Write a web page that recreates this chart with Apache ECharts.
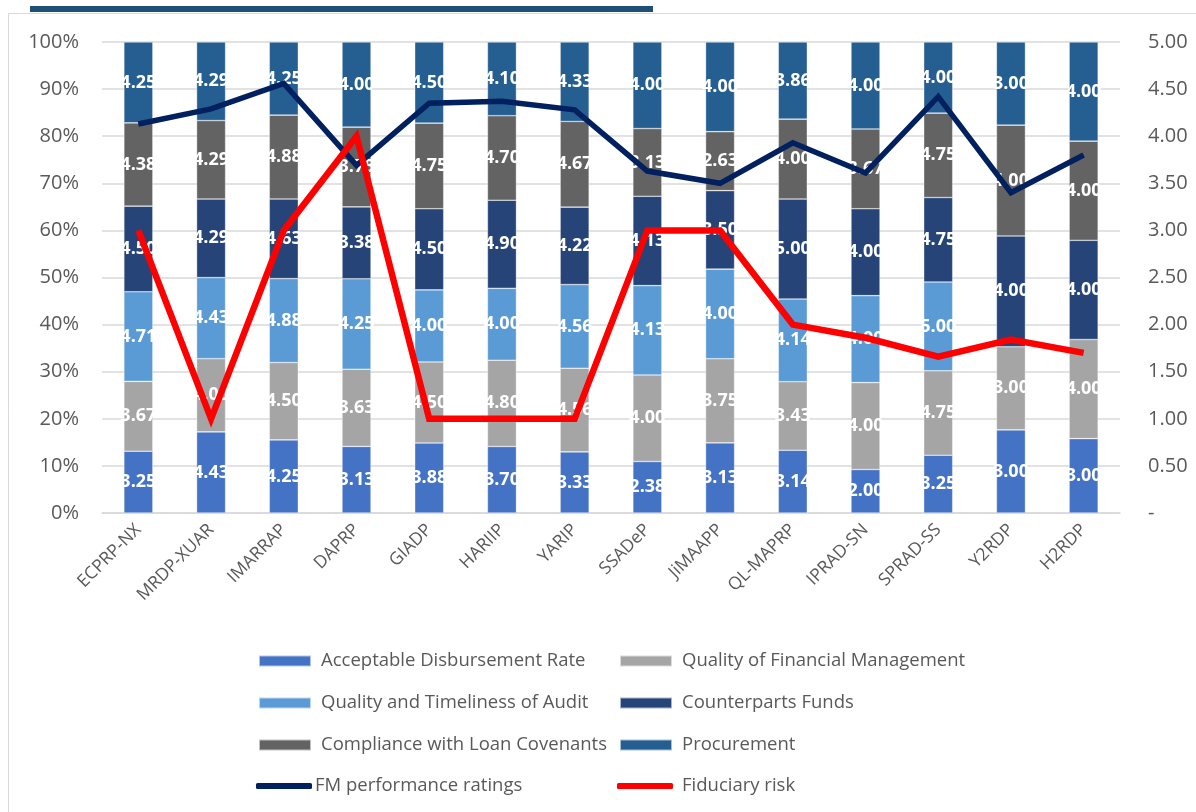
<!DOCTYPE html>
<html>
<head>
<meta charset="utf-8">
<script src="https://cdn.jsdelivr.net/npm/echarts@6/dist/echarts.min.js"></script>
<style>
  html, body { margin: 0; padding: 0; background: #ffffff; }
  #chart { width: 1196px; height: 812px; }
</style>
</head>
<body>
<div id="chart"></div>
<script>
// Project categories
const projects = ['ECPRP-NX', 'MRDP-XUAR', 'IMARRAP', 'DAPRP', 'GIADP', 'HARIIP', 'YARIP',
  'SSADeP', 'JiMAAPP', 'QL-MAPRP', 'IPRAD-SN', 'SPRAD-SS', 'Y2RDP', 'H2RDP'];

// Component scores per project (null = not rated)
const disbursementRate = [3.25, 4.43, 4.25, 3.13, 3.88, 3.70, 3.33, 2.38, 3.13, 3.14, 2.00, 3.25, 3.00, 3.00];
const financialMgmt    = [3.67, 4.00, 4.50, 3.63, 4.50, 4.80, 4.56, 4.00, 3.75, 3.43, 4.00, 4.75, 3.00, 4.00];
const auditQuality     = [4.71, 4.43, 4.88, 4.25, 4.00, 4.00, 4.56, 4.13, 4.00, 4.14, 4.00, 5.00, null, null];
const counterpartFunds = [4.50, 4.29, 4.63, 3.38, 4.50, 4.90, 4.22, 4.13, 3.50, 5.00, 4.00, 4.75, 4.00, 4.00];
const loanCovenants    = [4.38, 4.29, 4.88, 3.75, 4.75, 4.70, 4.67, 3.13, 2.63, 4.00, 3.67, 4.75, 4.00, 4.00];
const procurement      = [4.25, 4.29, 4.25, 4.00, 4.50, 4.10, 4.33, 4.00, 4.00, 3.86, 4.00, 4.00, 3.00, 4.00];

// Overall ratings (right axis)
const fmRatings     = [4.13, 4.29, 4.56, 3.69, 4.35, 4.37, 4.28, 3.63, 3.50, 3.93, 3.61, 4.42, 3.40, 3.80];
const fiduciaryRisk = [3.00, 1.00, 3.00, 4.00, 1.00, 1.00, 1.00, 3.00, 3.00, 2.00, 1.86, 1.66, 1.84, 1.70];

// Axis tick labels
const pctTicks = ['0%', '10%', '20%', '30%', '40%', '50%', '60%', '70%', '80%', '90%', '100%'];
const ratingTicks = ['-', '0.50', '1.00', '1.50', '2.00', '2.50', '3.00', '3.50', '4.00', '4.50', '5.00'];

const components = [
  { name: 'Acceptable Disbursement Rate', data: disbursementRate, color: '#4472C4' },
  { name: 'Quality of Financial Management', data: financialMgmt, color: '#A5A5A5' },
  { name: 'Quality and Timeliness of Audit', data: auditQuality, color: '#5B9BD5' },
  { name: 'Counterparts Funds', data: counterpartFunds, color: '#264478' },
  { name: 'Compliance with Loan Covenants', data: loanCovenants, color: '#636363' },
  { name: 'Procurement', data: procurement, color: '#255E91' }
];

// Each bar is normalised to 100% of its project's total score
const totals = projects.map((_, i) =>
  components.reduce((s, c) => s + (c.data[i] == null ? 0 : c.data[i]), 0));

const FONT = 'Open Sans';
const GREY_TEXT = '#595959';

const barSeries = components.map(c => ({
  name: c.name,
  type: 'bar',
  stack: 'share',
  yAxisIndex: 0,
  barWidth: 29,
  itemStyle: { color: c.color, borderColor: 'rgba(255,255,255,0.6)', borderWidth: 0.6 },
  data: c.data.map((v, i) => v == null ? null : { value: v / totals[i] * 100, raw: v }),
  label: {
    show: true,
    position: 'inside',
    color: '#ffffff',
    fontFamily: FONT,
    fontWeight: 'bold',
    fontSize: 18,
    formatter: p => (p.data && p.data.raw != null) ? p.data.raw.toFixed(2) : ''
  },
  emphasis: { disabled: true }
}));

const lineSeries = [
  {
    name: 'FM performance ratings',
    type: 'line',
    yAxisIndex: 1,
    data: fmRatings,
    symbol: 'none',
    lineStyle: { color: '#002060', width: 5.5, join: 'miter' },
    itemStyle: { color: '#002060' },
    z: 5
  },
  {
    name: 'Fiduciary risk',
    type: 'line',
    yAxisIndex: 1,
    data: fiduciaryRisk,
    symbol: 'none',
    lineStyle: { color: '#FF0000', width: 6.5, join: 'miter' },
    itemStyle: { color: '#FF0000' },
    z: 6
  }
];

const legendText = { color: GREY_TEXT, fontFamily: FONT, fontSize: 18.5, lineHeight: 20 };
const barLegend = {
  orient: 'vertical', top: 651, padding: 0, itemWidth: 52, itemHeight: 11, itemGap: 22,
  icon: 'rect', selectedMode: false,
  textStyle: Object.assign({ padding: [0, 0, 0, 5] }, legendText)
};
const lineLegend = {
  orient: 'vertical', top: 776, padding: 0, itemWidth: 56, itemHeight: 6,
  icon: 'roundRect', selectedMode: false
};

const chart = echarts.init(document.getElementById('chart'), null, { renderer: 'canvas' });
chart.setOption({
  animation: false,
  backgroundColor: '#ffffff',
  graphic: [
    { type: 'rect', shape: { x: 8.5, y: 13.5, width: 1200, height: 820 },
      style: { fill: 'none', stroke: '#D9D9D9', lineWidth: 1 }, z: -10 },
    { type: 'rect', shape: { x: 30, y: 6, width: 623, height: 6 },
      style: { fill: '#1F4E79' }, z: 10 }
  ],
  grid: { left: 102, right: 76, top: 42, bottom: 299, containLabel: false },
  xAxis: {
    type: 'category',
    data: projects,
    axisLine: { show: true, lineStyle: { color: '#D9D9D9', width: 1.5 } },
    axisTick: { show: false },
    axisLabel: { rotate: 45, margin: 14, color: GREY_TEXT, fontFamily: FONT, fontSize: 17.5, interval: 0 }
  },
  yAxis: [
    {
      type: 'value', min: 0, max: 100, interval: 10,
      axisLine: { show: false }, axisTick: { show: false },
      splitLine: { lineStyle: { color: '#D9D9D9', width: 1.5 } },
      axisLabel: { margin: 23, color: GREY_TEXT, fontFamily: FONT, fontSize: 20,
        formatter: v => pctTicks[Math.round(v / 10)] }
    },
    {
      type: 'value', min: 0, max: 5, interval: 0.5,
      axisLine: { show: false }, axisTick: { show: false }, splitLine: { show: false },
      axisLabel: { margin: 28, color: GREY_TEXT, fontFamily: FONT, fontSize: 20,
        formatter: v => ratingTicks[Math.round(v * 2)] }
    }
  ],
  legend: [
    Object.assign({ left: 258, data: [components[0].name, components[2].name, components[4].name] }, barLegend),
    Object.assign({ left: 619, data: [components[1].name, components[3].name, components[5].name] }, barLegend),
    Object.assign({ left: 256, data: [{ name: 'FM performance ratings', itemStyle: { color: '#002060' } }],
      textStyle: Object.assign({ padding: [0, 0, 0, -2] }, legendText) }, lineLegend),
    Object.assign({ left: 617, data: [{ name: 'Fiduciary risk', itemStyle: { color: '#FF0000' } }],
      textStyle: Object.assign({ padding: [0, 0, 0, 4] }, legendText) }, lineLegend)
  ],
  series: barSeries.concat(lineSeries)
});
</script>
</body>
</html>
